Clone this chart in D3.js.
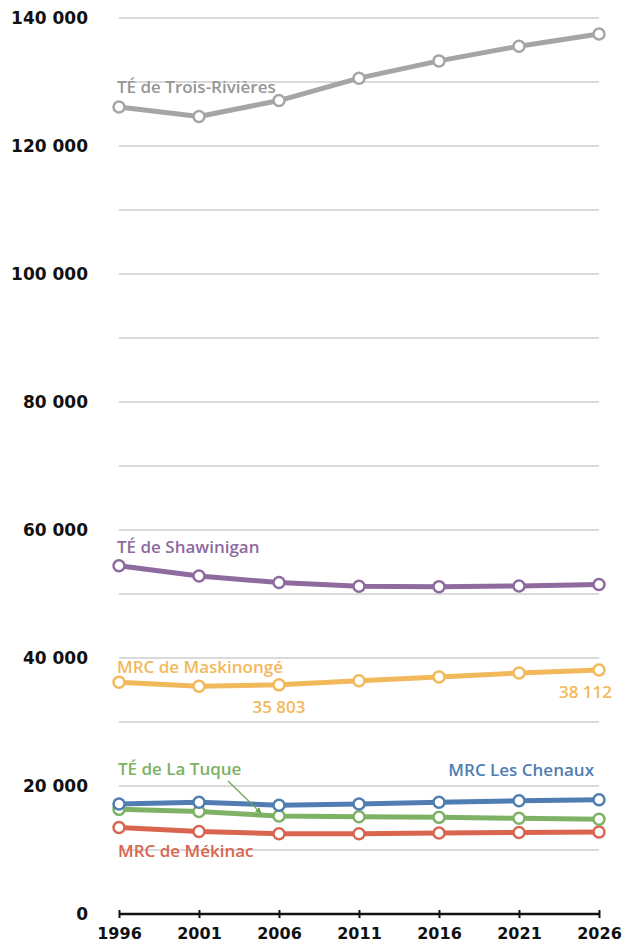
<!DOCTYPE html>
<html>
<head>
<meta charset="utf-8">
<script src="https://cdn.jsdelivr.net/npm/d3@7"></script>
<style>
  html, body { margin: 0; padding: 0; background: #fff; }
  svg { display: block; }
</style>
</head>
<body>
<svg id="chart" width="623" height="944"></svg>
<script>
const years = [1996, 2001, 2006, 2011, 2016, 2021, 2026];
const yTicks = [0, 20000, 40000, 60000, 80000, 100000, 120000, 140000];

const troisRivieres = [126100, 124600, 127100, 130600, 133300, 135600, 137500];
const shawinigan    = [54400, 52800, 51800, 51200, 51150, 51250, 51500];
const maskinonge    = [36200, 35600, 35803, 36450, 37050, 37650, 38112];
const lesChenaux    = [17200, 17450, 17000, 17200, 17450, 17700, 17850];
const laTuque       = [16350, 16000, 15300, 15200, 15100, 14950, 14800];
const mekinac       = [13500, 12900, 12550, 12550, 12650, 12750, 12800];

const series = [
  { name: 'TÉ de Trois-Rivières', values: troisRivieres, color: '#a5a5a5' },
  { name: 'TÉ de Shawinigan',     values: shawinigan,    color: '#8e6a9f' },
  { name: 'MRC de Maskinongé',    values: maskinonge,    color: '#f2b95c' },
  { name: 'MRC de Mékinac',       values: mekinac,       color: '#d9654f' },
  { name: 'TÉ de La Tuque',       values: laTuque,       color: '#7db264' },
  { name: 'MRC Les Chenaux',      values: lesChenaux,    color: '#4f7db2' },
];

const svg = d3.select('#chart');
const x = d3.scalePoint().domain(years).range([119, 599]);
const y = d3.scaleLinear().domain([0, 140000]).range([914, 18]);
const fmt = v => d3.format(',')(v).replace(/,/g, ' ');

// gridlines every 10 000
svg.append('g')
  .selectAll('line').data(d3.range(10000, 140001, 10000)).join('line')
  .attr('x1', 119).attr('x2', 599)
  .attr('y1', d => y(d)).attr('y2', d => y(d))
  .attr('stroke', '#b4b4b4').attr('stroke-width', 1);

// y labels
svg.append('g')
  .selectAll('text').data(yTicks).join('text')
  .attr('x', 88).attr('y', d => y(d) + 6)
  .attr('text-anchor', 'end')
  .attr('font-family', 'DejaVu Sans, sans-serif')
  .attr('font-weight', 'bold').attr('font-size', 17)
  .attr('fill', '#111')
  .text(fmt);

// x axis
const xAxis = svg.append('g').attr('transform', `translate(0,${y(0)})`)
  .call(d3.axisBottom(x).tickSize(0).tickPadding(14));
xAxis.select('.domain').attr('d', `M${x(1996)},0H${x(2026)}`)
  .attr('stroke', '#111').attr('stroke-width', 2.5);
xAxis.selectAll('.tick line').attr('y1', -4).attr('y2', 4)
  .attr('stroke', '#111').attr('stroke-width', 2);
xAxis.selectAll('.tick text')
  .attr('font-family', 'DejaVu Sans, sans-serif')
  .attr('font-weight', 'bold').attr('font-size', 16)
  .attr('fill', '#111');

// lines + markers
const line = d3.line().x((d, i) => x(years[i])).y(d => y(d));
for (const s of series) {
  const g = svg.append('g');
  g.append('path').attr('d', line(s.values))
    .attr('fill', 'none').attr('stroke', s.color)
    .attr('stroke-width', 5).attr('stroke-linejoin', 'round');
  g.selectAll('circle').data(s.values).join('circle')
    .attr('cx', (d, i) => x(years[i])).attr('cy', d => y(d))
    .attr('r', 5.5).attr('fill', '#fff')
    .attr('stroke', s.color).attr('stroke-width', 2.5);
}

// labels
const labelFont = 'Open Sans, sans-serif';
function label(txt, lx, ly, color, anchor = 'start') {
  svg.append('text').attr('x', lx).attr('y', ly)
    .attr('text-anchor', anchor)
    .attr('font-family', labelFont).attr('font-weight', 600)
    .attr('font-size', 17).attr('fill', color).text(txt);
}
const col = Object.fromEntries(series.map(s => [s.name, s.color]));
label('TÉ de Trois-Rivières', 117, 93, '#969696');
label('TÉ de Shawinigan', 117, 553, col['TÉ de Shawinigan']);
label('MRC de Maskinongé', 117, 673, col['MRC de Maskinongé']);
label(fmt(maskinonge[2]), x(2006), 713, col['MRC de Maskinongé'], 'middle');
label(fmt(maskinonge[6]), 612, 698, col['MRC de Maskinongé'], 'end');
label('TÉ de La Tuque', 118, 775, col['TÉ de La Tuque']);
label('MRC Les Chenaux', 594, 776, col['MRC Les Chenaux'], 'end');
label('MRC de Mékinac', 118, 857, col['MRC de Mékinac']);

// arrow from La Tuque label to its line
svg.append('defs').append('marker')
  .attr('id', 'arr').attr('viewBox', '0 0 10 10')
  .attr('refX', 9).attr('refY', 5)
  .attr('markerWidth', 5).attr('markerHeight', 5)
  .attr('orient', 'auto')
  .append('path').attr('d', 'M0,0 L10,5 L0,10 z').attr('fill', '#6aa552');
svg.append('line')
  .attr('x1', 228).attr('y1', 781).attr('x2', 261).attr('y2', 813)
  .attr('stroke', '#6aa552').attr('stroke-width', 1.2)
  .attr('marker-end', 'url(#arr)');
</script>
</body>
</html>
